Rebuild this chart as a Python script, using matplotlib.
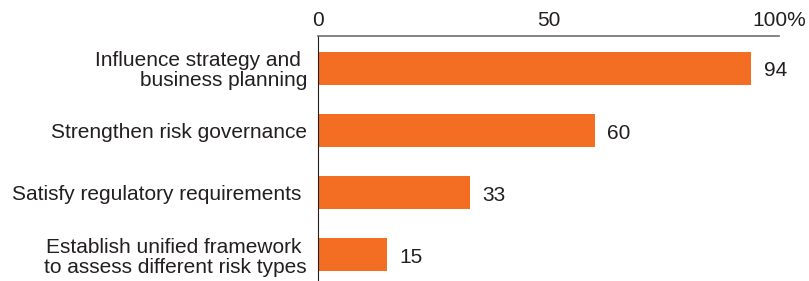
import matplotlib
matplotlib.use("Agg")
import matplotlib.pyplot as plt

categories = [
    "Influence strategy and \nbusiness planning",
    "Strengthen risk governance",
    "Satisfy regulatory requirements ",
    "Establish unified framework \nto assess different risk types",
]
values = [94, 60, 33, 15]
tick_values = [0, 50, 100]
tick_labels = ["0", "50", "100%"]

BAR_COLOR = "#F36D22"
TEXT_COLOR = "#231F20"
FS = 15

plt.rcParams["font.family"] = ["Liberation Sans", "DejaVu Sans"]

fig = plt.figure(figsize=(8.09, 2.81), dpi=100)
ax = fig.add_axes([318 / 809, 0, (779 - 318) / 809, 1 - 36 / 281])

y = list(range(len(values)))
ax.barh(y, values, height=0.53, color=BAR_COLOR, zorder=2)

for yi, v in zip(y, values):
    ax.annotate(str(v), xy=(v, yi), xytext=(9, -2), textcoords="offset points",
                va="center", ha="left", fontsize=FS, color=TEXT_COLOR)

ax.set_xlim(0, 100)
ax.set_ylim(3.42, -0.514)

ax.set_yticks(y)
ax.set_yticklabels(categories, fontsize=FS, color=TEXT_COLOR, ha="right",
                   multialignment="right", linespacing=1.05)
ax.tick_params(axis="y", length=0, pad=8)

ax.xaxis.tick_top()
ax.set_xticks(tick_values)
ax.set_xticklabels(tick_labels, fontsize=FS, color=TEXT_COLOR)
ax.tick_params(axis="x", length=0, pad=4)

for side in ("right", "bottom"):
    ax.spines[side].set_visible(False)
ax.spines["top"].set_color("#6D6E71")
ax.spines["top"].set_linewidth(1.2)
ax.spines["left"].set_color("#231F20")
ax.spines["left"].set_linewidth(0.8)

fig.savefig("out.png", dpi=100)
